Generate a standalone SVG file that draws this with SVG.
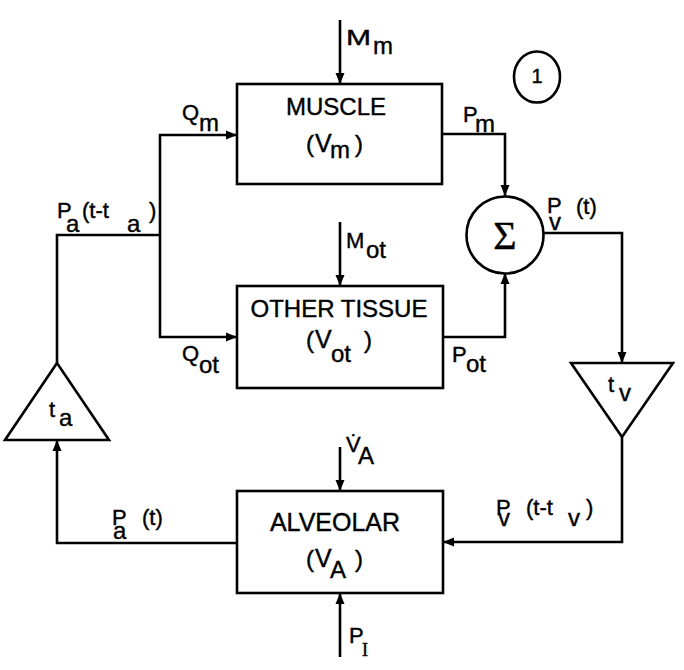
<svg xmlns="http://www.w3.org/2000/svg" width="684" height="670" viewBox="0 0 684 670">
<style>
  text { font-family: "Liberation Sans", Arial, sans-serif; fill: #000; stroke: #000; stroke-width: 0.4; }
  .box { fill: #fff; stroke: #000; stroke-width: 2.6; }
  .ln { fill: none; stroke: #000; stroke-width: 2.6; }
  .bt { font-size: 24px; }
  .bv { font-size: 25px; }
  .lb { font-size: 22px; }
  .sb { font-size: 24px; }
  .par { font-size: 24px; }
  .serif { font-family: "Liberation Serif", "Times New Roman", serif; }
</style>
<defs>
  <marker id="ah" markerUnits="userSpaceOnUse" markerWidth="12" markerHeight="10" refX="11" refY="5" orient="auto">
    <path d="M0,0.5 L11,5 L0,9.5 z" fill="#000"/>
  </marker>
</defs>
<rect width="684" height="670" fill="#fff"/>

<g id="connectors">
  <line class="ln" x1="340" y1="20" x2="340" y2="84" marker-end="url(#ah)"/>
  <polyline class="ln" points="57,363 57,235 160,235"/>
  <polyline class="ln" points="160,235 160,135 237,135" marker-end="url(#ah)"/>
  <polyline class="ln" points="160,235 160,337 237,337" marker-end="url(#ah)"/>
  <polyline class="ln" points="442,134 505,134 505,196" marker-end="url(#ah)"/>
  <line class="ln" x1="340" y1="222" x2="340" y2="286" marker-end="url(#ah)"/>
  <polyline class="ln" points="443,337 505,337 505,273" marker-end="url(#ah)"/>
  <polyline class="ln" points="544,233 622,233 622,363" marker-end="url(#ah)"/>
  <polyline class="ln" points="622,437 622,542 443,542" marker-end="url(#ah)"/>
  <line class="ln" x1="340" y1="447" x2="340" y2="491" marker-end="url(#ah)"/>
  <line class="ln" x1="340" y1="657" x2="340" y2="593" marker-end="url(#ah)"/>
  <polyline class="ln" points="237,543 57,543 57,440" marker-end="url(#ah)"/>
</g>

<g id="muscle">
  <rect class="box" x="237" y="84" width="205" height="100"/>
  <text class="bt" x="336" y="115" text-anchor="middle">MUSCLE</text>
  <text class="par" x="306" y="152">(</text>
  <text class="bv" x="315" y="152">V</text>
  <text class="sb" x="330" y="158">m</text>
  <text class="par" x="355" y="152">)</text>
</g>

<g id="other-tissue">
  <rect class="box" x="237" y="286" width="206" height="102"/>
  <text class="bt" x="339" y="317" text-anchor="middle">OTHER TISSUE</text>
  <text class="par" x="306" y="348">(</text>
  <text class="bv" x="315" y="348">V</text>
  <text class="sb" x="331" y="362">ot</text>
  <text class="par" x="364" y="348">)</text>
</g>

<g id="alveolar">
  <rect class="box" x="237" y="491" width="206" height="102"/>
  <text x="335" y="531" text-anchor="middle" style="font-size:25px">ALVEOLAR</text>
  <text class="par" x="306" y="567">(</text>
  <text class="bv" x="315" y="567">V</text>
  <text class="sb" x="330" y="578">A</text>
  <text class="par" x="355" y="567">)</text>
</g>

<g id="sum">
  <circle class="box" cx="505" cy="235" r="38.5"/>
  <text class="serif" x="505" y="249" text-anchor="middle" style="font-size:40px">Σ</text>
</g>

<g id="delay-a">
  <polygon class="box" points="57,363 5,440 109,440"/>
  <text class="lb" x="49" y="417">t</text>
  <text class="sb" x="59" y="426">a</text>
</g>

<g id="delay-v">
  <polygon class="box" points="571,363 673,363 622,437"/>
  <text class="lb" x="608" y="392">t</text>
  <text class="sb" x="619" y="401">v</text>
</g>

<g id="labels">
  <text class="lb" x="346" y="45" textLength="25" lengthAdjust="spacingAndGlyphs">M</text>
  <text class="sb" x="373" y="54">m</text>

  <text class="lb" x="346" y="248">M</text>
  <text class="sb" x="366" y="258">ot</text>

  <text class="lb" x="182" y="120">Q</text>
  <text class="sb" x="199" y="131">m</text>

  <text class="lb" x="182" y="361">Q</text>
  <text class="sb" x="199" y="373">ot</text>

  <text class="lb" x="463" y="122">P</text>
  <text class="sb" x="475" y="132">m</text>

  <text class="lb" x="452" y="362">P</text>
  <text class="sb" x="466" y="372">ot</text>

  <text class="lb" x="547" y="213">P</text>
  <text class="sb" x="549" y="230">v</text>
  <text class="lb" x="576" y="214">(t)</text>

  <text class="lb" x="57" y="218">P</text>
  <text class="sb" x="66" y="232">a</text>
  <text class="lb" x="82" y="218">(t-t</text>
  <text class="sb" x="127" y="232">a</text>
  <text class="lb" x="149" y="218">)</text>

  <text class="lb" x="112" y="525">P</text>
  <text class="sb" x="113" y="539">a</text>
  <text class="lb" x="142" y="525">(t)</text>

  <text class="lb" x="496" y="515">P</text>
  <text class="sb" x="498" y="526">v</text>
  <text class="lb" x="526" y="515">(t-t</text>
  <text class="sb" x="568" y="526">v</text>
  <text class="lb" x="586" y="515">)</text>

  <text class="lb" x="346" y="452">V̇</text>
  <text class="sb" x="358" y="464">A</text>

  <text class="lb" x="349" y="643">P</text>
  <text class="serif" x="362" y="656" style="font-size:18px">I</text>
</g>

<g id="figure-mark">
  <ellipse cx="537" cy="77" rx="23" ry="25.5" fill="none" stroke="#000" stroke-width="2.6"/>
  <text x="537" y="83" text-anchor="middle" style="font-size:20px">1</text>
</g>
</svg>
